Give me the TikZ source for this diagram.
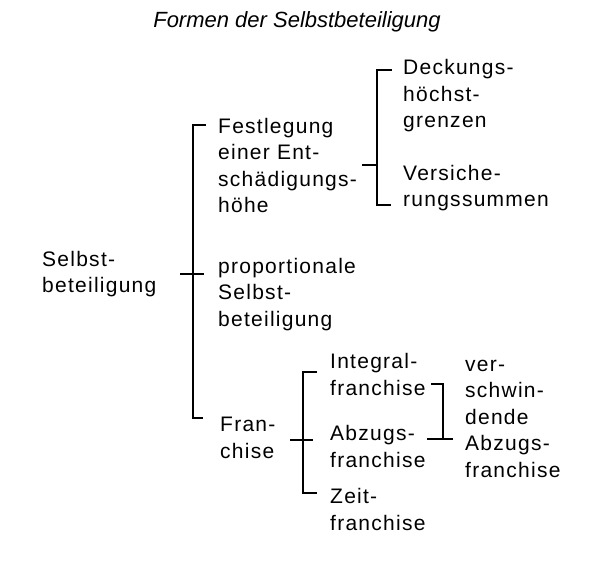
\documentclass[tikz,border=0pt]{standalone}
\usepackage{fontspec}
\setmainfont{Liberation Sans}[LetterSpace=6]
\newfontfamily\titlefont{Liberation Sans}
\newcommand{\bodyfont}{\fontsize{21}{26.5}\selectfont}
\begin{document}
\begin{tikzpicture}[x=1pt,y=-1pt,
  lbl/.style={anchor=base west, align=left, inner sep=0pt, font=\bodyfont},
  brk/.style={line width=1.6pt, line cap=rect},
  thin/.style={line width=1.1pt}]
\useasboundingbox (0,0) rectangle (600,564);
% title
\node[anchor=base, inner sep=0pt, font=\titlefont\fontsize{22}{26}\selectfont\itshape] (title) at (297,28) {Formen der Selbstbeteiligung};
% texts (anchor = baseline of last line)
\node[lbl] (sb) at (42,293) {Selbst-\\beteiligung};
\node[lbl] (fest) at (218,213) {Festlegung\\einer Ent-\\schädigungs-\\höhe};
\node[lbl] (prop) at (218,326) {proportionale\\Selbst-\\beteiligung};
\node[lbl] (fran) at (220,458) {Fran-\\chise};
\node[lbl] (deck) at (403,128) {Deckungs-\\höchst-\\grenzen};
\node[lbl] (vers) at (403,207) {Versiche-\\rungssummen};
\node[lbl] (integ) at (330,395) {Integral-\\franchise};
\node[lbl] (abz) at (330,467) {Abzugs-\\franchise};
\node[lbl] (zeit) at (330,530) {Zeit-\\franchise};
\node[lbl] (versch) at (465,477) {ver-\\schwin-\\dende\\Abzugs-\\franchise};
% main bracket
\coordinate (m-top) at (193,125);
\coordinate (m-bot) at (193,418);
\coordinate (m-mid) at (193,274);
\draw[thin] (m-top) ++(13,0) coordinate (m-t) -- (m-top) -- (m-bot) -- ++(10,0) coordinate (m-b);
\draw[thin] (m-mid) ++(-13,0) coordinate (m-in) -- ++(24,0) coordinate (m-out);
% upper bracket
\coordinate (u-top) at (377,70);
\coordinate (u-bot) at (377,205);
\coordinate (u-mid) at (377,165);
\draw[brk] (u-top) ++(14,0) coordinate (u-t) -- (u-top) -- (u-bot) -- ++(13,0) coordinate (u-b);
\draw[thin] (u-mid) ++(-15,0) coordinate (u-in) -- (u-mid);
% franchise bracket
\coordinate (f-top) at (303,372);
\coordinate (f-bot) at (303,493);
\coordinate (f-mid) at (303,440);
\draw[thin] (f-top) ++(14,0) coordinate (f-t) -- (f-top) -- (f-bot) -- ++(14,0) coordinate (f-b);
\draw[thin] (f-mid) ++(-13,0) coordinate (f-in) -- ++(23,0) coordinate (f-out);
% right bracket
\coordinate (r-top) at (443,384);
\coordinate (r-bot) at (443,439);
\draw[thin] (r-top) ++(-12,0) coordinate (r-t) -- (r-top) -- (r-bot) -- ++(-16,0) coordinate (r-b);
\draw[thin] (r-bot) -- ++(10,0) coordinate (r-out);
\end{tikzpicture}
\end{document}
